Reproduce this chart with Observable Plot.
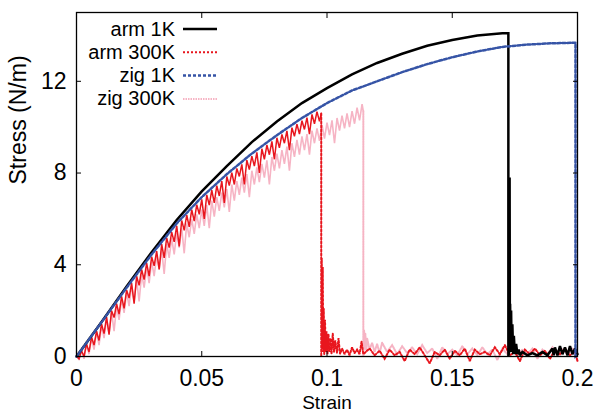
<!DOCTYPE html>
<html><head><meta charset="utf-8">
<script src="https://cdn.jsdelivr.net/npm/d3@7"></script>
<script src="https://cdn.jsdelivr.net/npm/@observablehq/plot@0.6"></script>
<style>body{margin:0;background:#fff}</style>
</head><body><div id="chart"></div>
<script>
const xTicks = [0, 0.05, 0.1, 0.15, 0.2];
const yTicks = [0, 4, 8, 12];
const seriesNames = ["arm 1K", "arm 300K", "zig 1K", "zig 300K"];
const seriesColors = ["#000000", "#e8161e", "#3654a6", "#f6b4c4"];
const seriesDash = [null, "2,2", "3,2", "1.5,1"];
const seriesWidth = [2.5, 2, 2.5, 2];

const arm1K = [[0,0],[0.01,1.5],[0.02,3.05],[0.03,4.55],[0.04,5.95],[0.05,7.2],[0.06,8.3],[0.07,9.35],[0.08,10.25],[0.09,11.05],[0.1,11.7],[0.11,12.3],[0.12,12.8],[0.13,13.2],[0.14,13.55],[0.15,13.8],[0.16,14.0],[0.17,14.1],[0.1724,14.1],
[0.1724,0],[0.1727,0.2],[0.1729,7.8],[0.173,1.0],[0.1731,2.3],[0.1733,0.3],[0.1735,2.0],[0.1737,0.2],[0.174,1.4],[0.1743,0.1],[0.1746,0.9],[0.175,0.1],[0.1755,0.55],[0.176,0.1],[0.1765,0.3],[0.177,0.05],[0.178,0.2],[0.18,0.05],[0.182,0.15],[0.184,0.05],[0.186,0.2],[0.188,0.05],[0.19,0.35],[0.1905,0.05],[0.191,0.4],[0.192,0.05],[0.193,0.45],[0.194,0.1],[0.195,0.4],[0.196,0.05],[0.197,0.45],[0.198,0.1],[0.199,0.35],[0.2,0.1]];

// arm 300K: noisy rise (drawn dense), then fracture and noisy tail
const arm300KRise = [[0,0],[0.001,-0.1],[0.002,0.25],[0.003,0.0],[0.004,0.55],[0.005,0.2],[0.006,0.85],[0.007,0.5],[0.008,1.1],[0.009,0.7],[0.01,1.42],[0.011,1.0],[0.012,1.72],[0.013,0.95],[0.014,2.0],[0.015,1.7],[0.016,2.3],[0.017,1.85],[0.018,2.62],[0.019,2.1],[0.02,2.9],[0.021,2.55],[0.022,3.2],[0.023,2.3],[0.024,3.5],[0.025,3.1],[0.026,3.8],[0.027,3.35],[0.028,4.07],[0.029,3.5],[0.03,4.35],[0.031,3.95],[0.032,4.6],[0.033,3.8],[0.034,4.9],[0.035,4.3],[0.036,5.17],[0.037,4.75],[0.038,5.42],[0.039,5.0],[0.04,5.7],[0.041,4.8],[0.042,5.93],[0.043,5.5],[0.044,6.17],[0.045,5.65],[0.046,6.4],[0.047,5.9],[0.048,6.62],[0.049,6.2],[0.05,6.85],[0.051,6.0],[0.052,7.05],[0.053,6.6],[0.054,7.25],[0.055,6.7],[0.056,7.45],[0.057,7.0],[0.058,7.65],[0.059,6.7],[0.06,7.85],[0.061,7.45],[0.062,8.02],[0.063,7.5],[0.064,8.2],[0.065,7.85],[0.066,8.38],[0.067,7.5],[0.068,8.56],[0.069,8.15],[0.07,8.74],[0.071,8.3],[0.072,8.9],[0.073,8.0],[0.074,9.06],[0.075,8.6],[0.076,9.22],[0.077,8.8],[0.078,9.38],[0.079,8.6],[0.08,9.54],[0.081,9.1],[0.082,9.68],[0.083,9.3],[0.084,9.84],[0.085,9.0],[0.086,9.98],[0.087,9.6],[0.088,10.13],[0.089,9.7],[0.09,10.28],[0.091,9.9],[0.092,10.42],[0.093,9.7],[0.094,10.56],[0.095,10.15],[0.096,10.68],[0.097,10.25],[0.0977,10.6]];
const arm300KAfter = [[0.0977,10.6],[0.0977,0],
[0.0979,4.3],[0.0981,0.3],[0.0983,3.9],[0.0985,0.2],[0.0987,2.1],[0.0989,0.1],[0.0992,1.6],[0.0995,0.2],[0.0998,1.1],[0.1002,0.1],[0.1006,0.95],[0.101,0.2],[0.1014,0.8],[0.1018,0.1],[0.1023,1.0],[0.1028,0.2],[0.1033,0.7],[0.104,0.15],[0.1046,0.8],[0.1052,0.1],[0.106,0.35],[0.107,0.1],[0.108,0.3],[0.109,0.05],[0.11,0.4],[0.111,0.15],[0.112,0.3],[0.113,0.1],[0.1138,0.65],[0.1145,0.1],
[0.117,0.35],[0.119,0.05],[0.121,0.25],[0.123,-0.1],[0.125,0.3],[0.127,0.05],[0.129,0.2],[0.131,-0.2],[0.133,0.3],[0.135,0.1],[0.137,0.4],[0.139,0.05],[0.141,-0.3],[0.143,0.2],[0.145,0.05],[0.147,0.3],[0.149,-0.1],[0.151,0.25],[0.153,0.05],[0.155,0.35],[0.157,-0.2],[0.159,0.3],[0.161,0.1],[0.163,0.2],[0.165,0.05],[0.167,0.4],[0.169,0.1],[0.171,0.5],[0.173,0.05],[0.175,0.2],[0.177,-0.2],[0.179,0.3],[0.181,0.1],[0.183,0.35],[0.185,0.05],[0.187,0.25],[0.189,-0.1],[0.191,0.3],[0.193,0.1],[0.195,0.35],[0.197,0.05],[0.199,0.25],[0.2,-0.2]];

const zig1K = [[0,0],[0.01,1.5],[0.02,3.0],[0.03,4.45],[0.04,5.8],[0.05,6.95],[0.06,7.95],[0.07,8.85],[0.08,9.65],[0.09,10.4],[0.1,11.05],[0.11,11.6],[0.12,12.0],[0.13,12.4],[0.14,12.75],[0.15,13.05],[0.16,13.3],[0.17,13.5],[0.18,13.6],[0.19,13.66],[0.1992,13.68],[0.1992,0],[0.2,0.05]];

// zig 300K: noisy rise, then fracture and noisy tail
const zig300KRise = [[0,0.2],[0.001,-0.15],[0.002,0.3],[0.003,-0.1],[0.004,0.55],[0.005,0.1],[0.006,0.8],[0.007,0.3],[0.008,1.1],[0.009,0.5],[0.01,1.35],[0.011,0.8],[0.012,1.65],[0.013,1.0],[0.014,1.95],[0.015,1.1],[0.016,2.2],[0.017,1.6],[0.018,2.5],[0.019,1.9],[0.02,2.8],[0.021,2.2],[0.022,3.1],[0.023,2.4],[0.024,3.35],[0.025,2.4],[0.026,3.6],[0.027,3.0],[0.028,3.9],[0.029,3.2],[0.03,4.15],[0.031,3.5],[0.032,4.4],[0.033,3.8],[0.034,4.65],[0.035,3.6],[0.036,4.9],[0.037,4.3],[0.038,5.15],[0.039,4.45],[0.04,5.4],[0.041,4.75],[0.042,5.6],[0.043,4.5],[0.044,5.8],[0.045,5.2],[0.046,6.0],[0.047,5.35],[0.048,6.2],[0.049,5.6],[0.05,6.4],[0.051,5.7],[0.052,6.6],[0.053,5.6],[0.054,6.8],[0.055,6.1],[0.056,6.95],[0.057,6.35],[0.058,7.15],[0.059,6.5],[0.06,7.3],[0.061,6.3],[0.062,7.5],[0.063,6.8],[0.064,7.65],[0.065,7.05],[0.066,7.8],[0.067,7.15],[0.068,7.95],[0.069,6.95],[0.07,8.1],[0.071,7.5],[0.072,8.25],[0.073,7.6],[0.074,8.4],[0.075,7.8],[0.076,8.55],[0.077,7.5],[0.078,8.7],[0.079,8.1],[0.08,8.85],[0.081,8.2],[0.082,9.0],[0.083,8.4],[0.084,9.15],[0.085,8.1],[0.086,9.3],[0.087,8.7],[0.088,9.45],[0.089,8.8],[0.09,9.6],[0.091,9.0],[0.092,9.7],[0.093,8.8],[0.094,9.85],[0.095,9.3],[0.096,9.95],[0.097,9.4],[0.098,10.1],[0.099,9.5],[0.1,10.2],[0.101,9.65],[0.102,10.3],[0.103,9.3],[0.104,10.4],[0.105,9.85],[0.106,10.5],[0.107,9.95],[0.108,10.6],[0.109,10.0],[0.11,10.7],[0.111,10.15],[0.112,10.85],[0.113,10.3],[0.114,11.0],[0.1145,10.7]];
const zig300KAfter = [[0.1145,10.7],[0.1145,0],
[0.1148,1.15],[0.115,0.3],[0.1153,1.0],[0.1157,0.2],[0.116,0.8],[0.117,0.3],[0.118,0.6],[0.119,0.2],[0.12,0.55],[0.121,0.15],[0.122,0.6],[0.124,0.2],[0.126,0.5],[0.128,0.1],[0.13,0.45],[0.132,0.15],[0.134,0.4],[0.136,0.1],[0.138,0.5],[0.14,0.15],[0.142,0.35],[0.144,-0.1],[0.146,0.4],[0.148,0.1],[0.15,0.3],[0.152,0.05],[0.154,0.45],[0.156,0.1],[0.158,0.35],[0.16,0.05],[0.162,0.4],[0.164,0.1],[0.166,0.3],[0.168,-0.15],[0.17,0.35],[0.172,0.1],[0.174,0.4],[0.176,0.05],[0.178,0.3],[0.18,0.1],[0.182,0.35],[0.184,-0.1],[0.186,0.3],[0.188,0.1],[0.19,0.4],[0.192,0.05],[0.194,0.3],[0.196,0.1],[0.198,0.35],[0.2,-0.2]];

const font = "'Liberation Sans', Arial, Helvetica, sans-serif";
const line = (data, i, dash, w) => Plot.line(data, {
  x: d => d[0], y: d => d[1],
  stroke: seriesColors[i], strokeWidth: w, strokeDasharray: dash,
  strokeLinejoin: "miter", strokeMiterlimit: 2
});

const plot = Plot.plot({
  width: 598, height: 413,
  marginLeft: 76, marginRight: 21, marginTop: 12, marginBottom: 57,
  style: {fontFamily: font, fontSize: "23px", color: "#000", background: "#fff", overflow: "visible"},
  x: {domain: [0, 0.2]},
  y: {domain: [0, 15]},
  marks: [
    line(zig300KRise, 3, null, 1.6),
    line(zig300KAfter, 3, seriesDash[3], seriesWidth[3]),
    line(arm300KRise, 1, null, 1.5),
    line(arm300KAfter, 1, seriesDash[1], seriesWidth[1]),
    line(arm1K, 0, null, seriesWidth[0]),
    line(zig1K, 2, seriesDash[2], seriesWidth[2]),
    Plot.frame({stroke: "#000", strokeWidth: 1.3}),
    Plot.axisX(xTicks, {anchor: "bottom", tickSize: -5, tickFormat: () => "", label: null}),
    Plot.axisX(xTicks, {anchor: "top", tickSize: -5, tickFormat: () => "", label: null}),
    Plot.axisY(yTicks, {anchor: "left", tickSize: -5, tickFormat: () => "", label: null}),
    Plot.axisY(yTicks, {anchor: "right", tickSize: -5, tickFormat: () => "", label: null}),
    Plot.axisX(xTicks, {anchor: "bottom", tickSize: 0, tickPadding: 13, tickFormat: d => String(d), label: null, fontSize: 23}),
    Plot.axisY(yTicks, {anchor: "left", tickSize: 0, tickPadding: 10, tickFormat: d => String(d), label: null, fontSize: 23}),
    Plot.text(["Strain"], {text: d => d, frameAnchor: "bottom", dy: 38.7, lineAnchor: "top", fontSize: 19}),
    Plot.text(["Stress (N/m)"], {text: d => d, frameAnchor: "left", dx: -67, rotate: -90, lineAnchor: "top", fontSize: 23})
  ]
});
document.getElementById("chart").appendChild(plot);

// legend
const svg = d3.select(plot);
const lg = svg.append("g").attr("font-family", font).attr("font-size", 20);
seriesNames.forEach((name, i) => {
  const yy = 29 + i * 23.3;
  lg.append("text").attr("x", 175).attr("y", yy + 6.5).attr("text-anchor", "end").attr("fill", "#000").text(name);
  lg.append("line").attr("x1", 183).attr("x2", 217).attr("y1", yy).attr("y2", yy)
    .attr("stroke", seriesColors[i]).attr("stroke-width", seriesWidth[i])
    .attr("stroke-dasharray", seriesDash[i]);
});
</script>
</body></html>
